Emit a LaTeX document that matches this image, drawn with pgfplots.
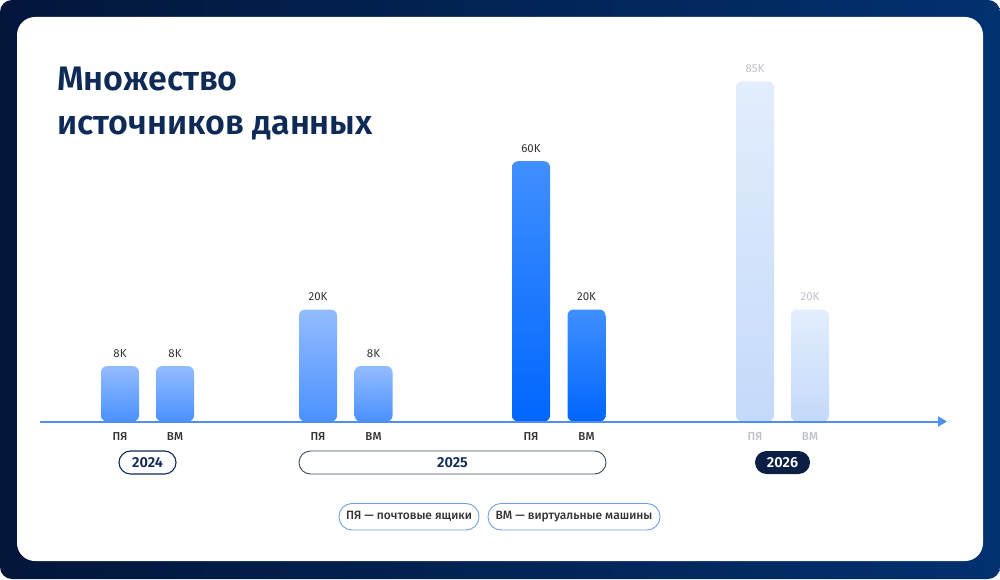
\documentclass[border=0pt]{standalone}
\usepackage{pgfplots}
\pgfplotsset{compat=1.18}
\usepackage{fontspec}
\setmainfont{Fira Sans}
\newfontfamily\titlefont{Fira Sans SemiBold}
\newfontfamily\medfont{Fira Sans Medium}
\usetikzlibrary{arrows.meta}
\definecolor{bgL}{HTML}{02163A}
\definecolor{bgR}{HTML}{023170}
\definecolor{navy}{HTML}{0E2A57}
\definecolor{pillnavy}{HTML}{0B1F45}
\definecolor{pillgray}{HTML}{3F4A5E}
\definecolor{axisblue}{HTML}{4D8FEF}
\definecolor{legblue}{HTML}{6EA0E6}
\definecolor{lbl}{HTML}{333333}
\definecolor{lblfade}{HTML}{BDC2CA}
\definecolor{lightT}{HTML}{93BCFF}
\definecolor{lightB}{HTML}{4A91FF}
\definecolor{strongT}{HTML}{408FFF}
\definecolor{strongM}{HTML}{0B6CFF}
\definecolor{strongB}{HTML}{0066FF}
\definecolor{fadeT}{HTML}{E3EDFD}
\definecolor{fadeB}{HTML}{C4DAFA}
\begin{document}
\begin{tikzpicture}[x=1pt,y=1pt]
% background frame and card
\fill[white] (0,0) rectangle (1000,579);
\shade[left color=bgL, right color=bgR, rounded corners=12pt] (0,0) rectangle (1000,579);
\fill[white, rounded corners=18pt] (17,18) rectangle (983,562);
% title
\node[anchor=base west, inner sep=0, text=navy, font=\titlefont\fontsize{34}{40}\selectfont] at (57,488.5) {Множество};
\node[anchor=base west, inner sep=0, text=navy, font=\titlefont\fontsize{34}{40}\selectfont] at (57,444) {источников данных};
\begin{axis}[
  at={(0pt,157.5pt)}, anchor=south west,
  scale only axis, width=1000pt, height=400pt,
  xmin=0, xmax=1000, ymin=0, ymax=105,
  hide axis,
  clip=true,
  y coord trafo/.code={\pgfmathparse{11.2*(#1+0.0001)^0.768+8}},
  every axis plot/.append style={ybar, bar width=38pt, bar shift=0pt, draw=none,
     rounded corners=6pt, nodes near coords, point meta=explicit symbolic},
  nodes near coords style={font=\fontsize{11.5}{12}\selectfont, anchor=south, yshift=5pt, text=lbl},
]
% 2024
\addplot[top color=lightT, bottom color=lightB] coordinates {(120,8) [8K]};
\addplot[top color=lightT, bottom color=lightB] coordinates {(175,8) [8K]};
% 2025 (first)
\addplot[top color=lightT, bottom color=lightB] coordinates {(318,20) [20K]};
\addplot[top color=lightT, bottom color=lightB] coordinates {(373.5,8) [8K]};
% 2025 (second)
\addplot[top color=strongT, middle color=strongM, bottom color=strongB] coordinates {(531,60) [60K]};
\addplot[top color=strongT, middle color=strongM, bottom color=strongB] coordinates {(586.5,20) [20K]};
% 2026
\addplot[top color=fadeT, bottom color=fadeB, nodes near coords style={text=lblfade}] coordinates {(755,85) [85K]};
\addplot[top color=fadeT, bottom color=fadeB, nodes near coords style={text=lblfade}] coordinates {(810,20) [20K]};
\end{axis}
% baseline arrow
\draw[axisblue, line width=2pt, -{Triangle[length=9pt,width=10pt]}] (40,157.5) -- (947,157.5);
% category labels
\begin{scope}[every node/.style={font=\medfont\fontsize{11.5}{12}\selectfont, text=lbl}]
\node at (120,142.5) {ПЯ};
\node at (175,142.5) {ВМ};
\node at (318,142.5) {ПЯ};
\node at (373.5,142.5) {ВМ};
\node at (531,142.5) {ПЯ};
\node at (586.5,142.5) {ВМ};
\node[text=lblfade] at (755,142.5) {ПЯ};
\node[text=lblfade] at (810,142.5) {ВМ};
\end{scope}
% year pills
\draw[navy, line width=1.1pt, rounded corners=11.5pt] (119,105) rectangle (176,128);
\node[font=\titlefont\fontsize{14.5}{16}\selectfont, text=navy] at (147.5,116.5) {2024};
\draw[pillgray, line width=0.9pt, rounded corners=11.5pt] (299,105) rectangle (606,128);
\node[font=\titlefont\fontsize{14.5}{16}\selectfont, text=navy] at (452.5,116.5) {2025};
\fill[pillnavy, rounded corners=11.5pt] (755,105) rectangle (810,128);
\node[font=\titlefont\fontsize{14.5}{16}\selectfont, text=white] at (782.5,116.5) {2026};
% legend pills
\draw[legblue, line width=0.9pt, rounded corners=13pt] (339,49) rectangle (479,75.5);
\node[font=\medfont\fontsize{12}{14}\selectfont, text=lbl] at (409,62.25) {ПЯ — почтовые ящики};
\draw[legblue, line width=0.9pt, rounded corners=13pt] (488,49) rectangle (660,75.5);
\node[font=\medfont\fontsize{12}{14}\selectfont, text=lbl] at (574,62.25) {ВМ — виртуальные машины};
\end{tikzpicture}
\end{document}
